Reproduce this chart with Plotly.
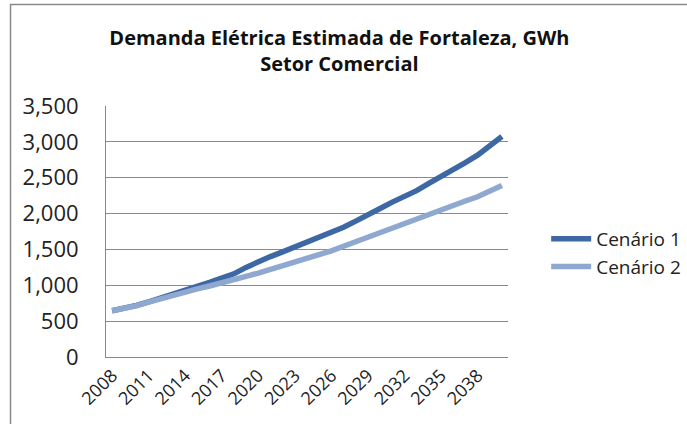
import plotly.graph_objects as go

years = [str(y) for y in range(2008, 2041)]
cenario1 = [645, 680, 720, 770, 820, 880, 935, 985, 1040, 1100, 1160, 1250, 1330,
            1400, 1465, 1530, 1595, 1660, 1730, 1810, 1895, 1975, 2070, 2160, 2235,
            2320, 2420, 2510, 2610, 2710, 2815, 2945, 3075]
cenario2 = [645, 675, 715, 765, 815, 860, 905, 950, 990, 1030, 1080, 1125, 1170,
            1220, 1270, 1320, 1375, 1430, 1480, 1545, 1610, 1675, 1740, 1800, 1860,
            1920, 1985, 2050, 2110, 2175, 2235, 2310, 2390]
tick_years = [str(y) for y in range(2008, 2040, 3)]
y_ticks = [0, 500, 1000, 1500, 2000, 2500, 3000, 3500]
title_text = "<b>Demanda Elétrica Estimada de Fortaleza, GWh<br>Setor Comercial</b>"

W, H = 687, 424
ml, mr, mt, mb = 106, 179, 106, 67
pw, ph = W - ml - mr, H - mt - mb

fig = go.Figure()
fig.add_trace(go.Scatter(x=years, y=cenario1, mode="lines", name="Cenário 1",
                         legendgroup="c1",
                         line=dict(color="#3D68A4", width=5.5)))
fig.add_trace(go.Scatter(x=years, y=cenario2, mode="lines", name="Cenário 2",
                         legendgroup="c2",
                         line=dict(color="#8FA8D0", width=5.5)))

font_family = "Open Sans, Noto Sans, sans-serif"
fig.update_layout(
    width=W, height=H,
    margin=dict(l=ml, r=mr, t=mt, b=mb, pad=0),
    paper_bgcolor="white", plot_bgcolor="white",
    font=dict(family=font_family, color="#222222"),
    title=dict(text=title_text, x=0.494, xanchor="center", y=0.895, yanchor="top",
               font=dict(size=20, color="#111111", family=font_family)),
    showlegend=True,
    legend=dict(xref="container", yref="container", x=0.795, xanchor="left",
                y=1 - 253 / H, yanchor="middle",
                font=dict(size=19, color="#222222"), traceorder="grouped",
                tracegroupgap=0, itemwidth=40, bgcolor="rgba(0,0,0,0)"),
    xaxis=dict(type="category", tickmode="array", tickvals=tick_years, ticktext=tick_years,
               tickangle=-45, tickfont=dict(size=18), showgrid=False,
               showline=True, linecolor="#888888", linewidth=1, ticks="",
               range=[-0.5, len(years) - 0.5], fixedrange=True, automargin=False),
    yaxis=dict(range=[0, 3500], tickvals=y_ticks, tickformat=",d",
               tickfont=dict(size=22), showgrid=True, gridcolor="#8a8a8a", gridwidth=1,
               showline=True, linecolor="#888888", linewidth=1, ticks="", zeroline=False,
               ticklabelstandoff=22, fixedrange=True, automargin=False),
)

# chart frame: left and top edges (right/bottom lie outside the window)
fx0 = (10.5 - ml) / pw
fy1 = (H - mb - 4.5) / ph
fig.add_shape(type="rect", xref="paper", yref="paper",
              x0=fx0, x1=(W + 5 - ml) / pw, y0=-(mb + 5) / ph, y1=fy1,
              line=dict(color="#8a8a8a", width=1.5), fillcolor="rgba(0,0,0,0)",
              layer="below")

fig.write_html("out.html")
